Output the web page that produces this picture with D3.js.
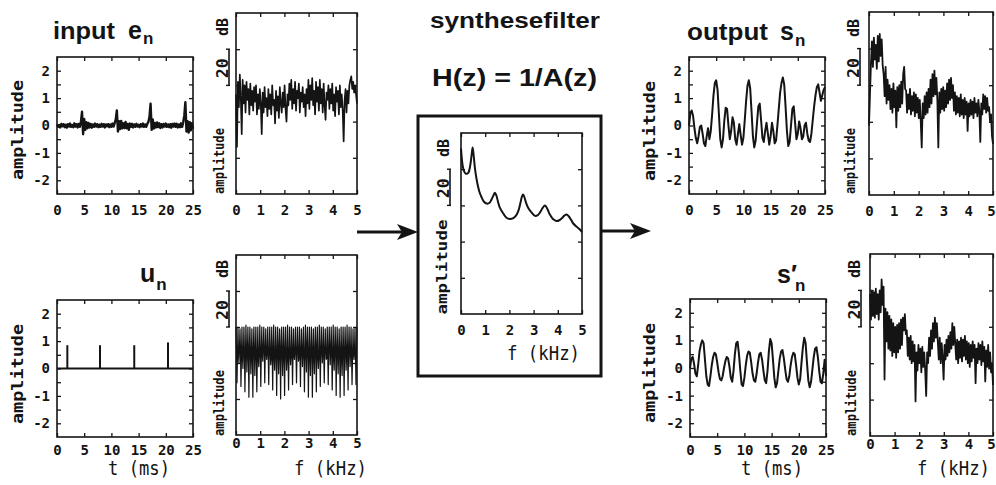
<!DOCTYPE html>
<html><head><meta charset="utf-8">
<script src="https://cdn.jsdelivr.net/npm/d3@7"></script>
<style>html,body{margin:0;padding:0;background:#fff;}svg{display:block;}</style>
</head><body>
<script>
// ---- axis ticks ----
const timeTicks = [0, 5, 10, 15, 20, 25];
const freqTicks = [0, 1, 2, 3, 4, 5];
const ampLabels = [-2, -1, 0, 1, 2];
const ampMinor = [-2, -1.5, -1, -0.5, 0, 0.5, 1, 1.5, 2];
const dbTicks = [20, 40, 60, 80];

// ---- input e_n (residual), 0.2 ms steps over 25 ms ----
const residual = [
  0.04,-0.05,0.02,-0.07,0.06,-0.03,0.05,-0.06,0.03,-0.08,
  0.05,-0.04,0.07,-0.05,0.02,-0.06,0.08,-0.04,0.05,-0.07,
  0.06,-0.05,0.14,0.5,-0.32,0.24,-0.16,0.12,-0.1,0.09,
  -0.07,0.06,-0.08,0.04,-0.05,0.07,-0.04,0.05,-0.06,0.03,
  -0.05,0.06,-0.04,0.05,-0.07,0.04,-0.03,0.05,-0.06,0.04,
  -0.05,0.07,-0.04,0.09,0.22,0.55,-0.22,0.16,-0.13,0.17,
  -0.1,0.08,-0.09,0.13,-0.1,0.06,-0.16,0.07,-0.05,0.06,
  -0.07,0.04,-0.05,0.06,-0.04,0.03,-0.06,0.05,-0.04,0.07,
  -0.05,0.04,-0.05,0.06,0.13,0.32,0.8,-0.16,0.22,-0.11,
  0.09,-0.07,0.11,-0.06,0.08,-0.09,0.05,-0.07,0.06,-0.04,
  0.07,-0.05,0.04,-0.06,0.05,-0.08,0.06,-0.04,0.07,-0.05,
  0.06,-0.07,0.04,-0.06,0.08,-0.05,0.12,0.36,0.85,-0.22,
  0.16,-0.26,0.12,-0.18,0.08,-0.12
];
// spectrum of e_n (dB), 128 bins over 0..5 kHz
const residualSpec = [
  55,26,62,48,66,54,33,63,50,60, 45,62,52,58,44,61,49,57,46,59,
  51,60,44,55,47,58,50,33,56,45, 59,48,53,43,58,47,55,44,60,49,
  52,39,57,46,54,42,59,50,45,56, 48,60,47,40,55,49,61,52,63,47,
  58,50,62,46,57,53,61,45,56,51, 59,48,55,43,58,50,63,47,60,52,
  64,49,57,44,62,51,59,46,63,50, 58,45,61,49,41,56,52,60,47,58,
  50,61,46,55,43,59,51,57,44,60, 48,55,46,29,52,58,45,57,50,60,
  63,65,58,62,56,60,55,50
];

// ---- pulse train u_n ----
const pulseTimes = [1.9, 7.9, 14.2, 20.4];
const pulseAmps = [0.85, 0.85, 0.85, 0.95];
// line spectrum of u_n (dB): peaks, and the three samples between neighbouring lines
const combPeak = [
  60,60,59,60,60,61,60,60,59,60, 60,60,61,60,60,59,60,60,60,61,
  60,60,59,60,60,60,61,60,60,59, 60,60,60,59,60,61,60,60,60,59,
  60,60,61,60,60,59,60,60,60,61, 60,60,59,60,60,60,61,60,60,59,
  60,60
];
const combMidA = [
  47,45,48,44,46,49,45,47,44,48, 46,43,47,45,48,46,44,47,45,43,
  46,48,45,47,44,46,43,45,47,44, 46,48,44,47,45,49,46,44,48,45,
  47,43,46,48,44,47,45,49,46,44, 48,45,47,43,46,48,44,47,45,46,
  44
];
const combLow = [
  29,40,27,37,24,35,21,34,21,33, 24,38,27,41,29,42,28,39,25,36,
  22,34,20,33,22,36,25,39,28,42, 29,41,27,38,24,35,21,33,21,34,
  24,37,27,40,29,42,28,39,25,36, 22,34,21,33,22,36,25,38,28,42,
  28
];
const combMidB = [
  45,48,44,47,43,46,48,44,47,45, 42,46,44,48,45,47,46,43,47,45,
  44,46,48,45,47,43,46,44,45,47, 45,43,47,46,44,48,45,47,43,46,
  48,44,46,45,47,43,48,46,44,47, 45,46,43,47,45,44,48,46,43,47,
  45
];

// ---- synthesis filter |H| (dB) ----
const filterFreq = [0,0.1,0.2,0.3,0.38,0.44,0.48,0.52,0.58,0.65,0.75,0.85,0.95,1.06,1.17,1.27,1.34,1.4,1.46,1.53,1.61,1.75,1.88,2.02,2.16,2.28,2.37,2.45,2.52,2.57,2.62,2.7,2.78,2.92,3.06,3.16,3.26,3.37,3.47,3.57,3.67,3.8,3.95,4.06,4.16,4.26,4.36,4.45,4.55,4.64,4.8,4.9,5];
const filterDb = [91.5,80,77.5,78,82,88,92,88,80,74,68,64.5,62,61,61.3,63.5,65.5,67,65.5,62,58.6,55.5,53.2,52.5,53,54.5,57,61,65,66,64.5,61,58.6,56,54.2,54.5,56,58.5,60,58,55,52.5,51.4,51.8,52.8,54.2,55,54,52,50,48,46.8,45.3];

// ---- output s_n, 0.25 ms steps ----
const speech = [
  0,0.45,0.55,0.35,-0.1,-0.45,-0.65,-0.4,-0.05,0,
  -0.3,-0.65,-0.75,-0.4,-0.1,-0.5,-0.2,0.4,1.1,1.55,
  1.65,1.3,0.4,-0.5,-0.8,-0.5,0.2,0.65,0.6,0,
  -0.5,-0.2,0.3,0.1,-0.5,-0.7,-0.3,0.05,-0.35,-0.7,
  -0.45,0.2,0.9,1.45,1.65,1.35,0.5,-0.4,-0.8,-0.55,
  0.1,0.7,0.8,0.2,-0.45,-0.6,-0.2,0.1,-0.3,-0.7,
  -0.4,0.1,-0.2,-0.65,-0.55,0,0.6,1.2,1.55,1.75,
  1.5,0.7,-0.2,-0.75,-0.6,0,0.6,0.7,0.1,-0.5,
  -0.3,0.15,-0.1,-0.5,-0.4,0,0.1,-0.3,-0.55,-0.6,
  -0.3,0.2,0.7,1.1,1.4,1.5,1.2,0.9,1.1,1.3,1.4
];
const speechSpec = [
  38,55,72,84,70,86,74,82,69,87, 73,88,76,85,71,66,54,70,50,63,
  52,60,47,58,45,61,48,57,37,59, 46,60,48,62,50,66,70,58,57,45,
  55,47,58,44,54,46,56,43,55,45, 53,42,52,40,26,50,42,54,44,56,
  45,58,48,63,50,66,54,68,55,64, 52,26,56,45,58,47,59,46,57,48,
  61,50,63,52,64,53,60,46,56,44, 54,45,53,43,55,44,52,42,53,44,
  51,35,50,43,52,44,51,42,53,45, 50,43,52,46,29,50,44,55,47,54,
  45,53,46,48,40,44,32,28
];

// ---- s'_n, 0.25 ms steps ----
const speech2 = [
  0,0.35,0.4,0.15,-0.2,-0.3,0.1,0.6,0.85,1,
  0.9,0.3,-0.3,-0.6,-0.65,-0.3,0.1,0.4,0.55,0.5,
  0.2,-0.15,-0.4,-0.45,-0.3,0,0.25,0.4,0.35,0.05,
  -0.35,-0.5,-0.1,0.5,0.9,0.95,0.5,-0.1,-0.6,-0.65,
  -0.35,0.1,0.45,0.6,0.55,0.2,-0.2,-0.45,-0.5,-0.2,
  0.2,0.5,0.55,0.3,-0.1,-0.45,-0.55,-0.1,0.6,1.05,
  0.9,0.3,-0.35,-0.7,-0.55,-0.1,0.35,0.6,0.65,0.35,
  -0.05,-0.4,-0.5,-0.3,0.1,0.4,0.55,0.5,0.1,-0.35,
  -0.6,-0.4,0.2,0.75,1.1,0.9,0.2,-0.45,-0.7,-0.5,
  -0.05,0.4,0.7,0.75,0.4,-0.1,-0.5,-0.55,-0.2,0.3,-0.3
];
const speech2Spec = [
  78,64,80,66,79,65,81,67,78,64, 80,68,86,72,82,31,70,52,68,48,
  66,47,64,44,62,46,60,43,61,46, 62,48,64,50,65,58,67,56,58,44,
  54,42,55,40,52,41,50,19,46,36, 50,40,48,35,49,38,46,36,22,46,
  40,54,44,58,48,62,52,65,54,62, 52,42,54,40,51,43,31,50,42,53,
  44,55,46,57,48,62,50,60,51,42, 53,40,52,43,54,41,53,44,55,42,
  52,40,51,38,50,41,52,43,50,29, 48,40,51,42,50,39,52,41,49,30,
  47,38,50,37,46,35,40,28
];

// ---------------------------------------------------------------
const INK = "#141414";
const MONO = "'DejaVu Sans Mono', monospace";
const SANS = "'Liberation Sans', Arial, sans-serif";
const svg = d3.select("body").append("svg").attr("width", 996).attr("height", 485);

const fmtSigned = d => (d < 0 ? "-" : "") + Math.abs(d);

function panel(box, xDomain, yDomain, o) {
  const x = d3.scaleLinear(xDomain, [box.x0, box.x1]);
  const y = d3.scaleLinear(yDomain, [box.y1, box.y0]);
  const g = svg.append("g");
  const ax = (gen, tx, ty) => g.append("g").attr("transform", `translate(${tx},${ty})`)
      .call(gen).call(s => s.select(".domain").remove());
  const bottom = ax(d3.axisBottom(x).tickValues(o.xTicks).tickSizeInner(-4).tickSizeOuter(0)
      .tickPadding(o.xPad).tickFormat(d3.format("d")), 0, box.y1);
  ax(d3.axisTop(x).tickValues(o.xTicks).tickSizeInner(-4).tickSizeOuter(0).tickFormat(""), 0, box.y0);
  if (o.yLabels) ax(d3.axisLeft(y).tickValues(o.yLabels).tickSizeInner(0).tickSizeOuter(0)
      .tickPadding(7).tickFormat(fmtSigned), box.x0, 0);
  ax(d3.axisLeft(y).tickValues(o.yTicks).tickSizeInner(-4).tickSizeOuter(0).tickFormat(""), box.x0, 0);
  ax(d3.axisRight(y).tickValues(o.yTicks).tickSizeInner(-4).tickSizeOuter(0).tickFormat(""), box.x1, 0);
  g.selectAll(".tick line").attr("stroke", INK).attr("stroke-width", 1.3);
  g.selectAll(".tick text").attr("font-family", MONO).attr("font-weight", "bold")
      .attr("font-size", 14).attr("fill", INK);
  if (o.lastShift) bottom.selectAll(".tick text").filter((d, i, n) => i === n.length - 1)
      .attr("dx", o.lastShift);
  g.append("rect").attr("x", box.x0).attr("y", box.y0)
      .attr("width", box.x1 - box.x0).attr("height", box.y1 - box.y0)
      .attr("fill", "none").attr("stroke", INK).attr("stroke-width", 1.6);
  return { x, y, g };
}

function vtext(x, y, str, size, len, weight) {
  const t = svg.append("text").attr("transform", `translate(${x},${y}) rotate(-90)`)
      .attr("text-anchor", "middle").attr("font-family", MONO)
      .attr("font-weight", weight || "bold").attr("font-size", size).attr("fill", INK).text(str);
  if (len) t.attr("textLength", len).attr("lengthAdjust", "spacingAndGlyphs");
  return t;
}

function htext(x, y, str, font, size, len, weight, anchor) {
  const t = svg.append("text").attr("x", x).attr("y", y)
      .attr("font-family", font).attr("font-weight", weight || "bold")
      .attr("font-size", size).attr("fill", INK).attr("text-anchor", anchor || "start").text(str);
  if (len) t.attr("textLength", len).attr("lengthAdjust", "spacingAndGlyphs");
  return t;
}

// symbol with subscript n (optionally primed), kept in one text element
function symbol(x, y, letter, subDx, subDy) {
  const t = svg.append("text").attr("x", x).attr("y", y)
      .attr("font-family", SANS).attr("font-weight", "bold").attr("fill", INK);
  t.append("tspan").attr("font-size", 25).text(letter);
  t.append("tspan").attr("font-size", 17).attr("dx", subDx).attr("dy", subDy).text("n");
  return t;
}

// time-domain panel
function timePanel(box, xPad, labelX, labelY) {
  const p = panel(box, [0, 25], [-2.5, 2.5], { xTicks: timeTicks, yTicks: ampMinor, yLabels: ampLabels, xPad });
  vtext(labelX, labelY, "amplitude", 15, 100);
  return p;
}

// spectrum panel with rotated "amplitude 20 — dB" scale label
function specPanel(box, xPad, o) {
  const p = panel(box, [0, 5], [0, 100], { xTicks: freqTicks, yTicks: dbTicks, xPad, lastShift: o.lastShift });
  const bx = box.x0 - o.barGap;
  vtext(bx - o.ampShift, o.ampY, "amplitude", o.ampSize, o.ampLen);
  const yTop = p.y(80), yBot = p.y(60);
  svg.append("line").attr("x1", bx).attr("x2", bx).attr("y1", yTop).attr("y2", yBot)
      .attr("stroke", INK).attr("stroke-width", 1.6);
  [yTop, yBot].forEach(v => svg.append("line").attr("x1", bx - 3).attr("x2", bx + 1)
      .attr("y1", v).attr("y2", v).attr("stroke", INK).attr("stroke-width", 1.4));
  vtext(bx - 1.5, (yTop + yBot) / 2 + 1, "20", 15, 20);
  vtext(bx - 1.5, o.dbY, "dB", 15, 18);
  return p;
}

const idxLine = (p, n, span, vals) => d3.line()
    .x((d, i) => p.x(i * span / (n - 1))).y(d => p.y(d))(vals);

function trace(p, vals, span, width) {
  p.g.append("path").attr("d", idxLine(p, vals.length, span, vals))
      .attr("fill", "none").attr("stroke", INK).attr("stroke-width", width)
      .attr("stroke-linejoin", "round");
}

const specLabel = { barGap: 7, ampShift: 5, ampSize: 13.5, ampLen: 66 };

// ---- panel 1: e_n ----
const p1 = timePanel({ x0: 57, x1: 193, y0: 57, y1: 194 }, 11, 23, 130);
trace(p1, residual, 25, 2.4);

// ---- panel 2: spectrum of e_n ----
const p2 = specPanel({ x0: 236, x1: 357, y0: 13, y1: 194 }, 11,
  Object.assign({}, specLabel, { ampY: 161, dbY: 27 }));
trace(p2, residualSpec, 5, 1.7);

// ---- panel 3: u_n ----
const p3 = timePanel({ x0: 57, x1: 193, y0: 300, y1: 437 }, 8, 23, 374);
p3.g.append("line").attr("x1", p3.x(0)).attr("x2", p3.x(25)).attr("y1", p3.y(0)).attr("y2", p3.y(0))
    .attr("stroke", INK).attr("stroke-width", 2);
p3.g.selectAll(".pulse").data(pulseTimes).join("line")
    .attr("x1", d => p3.x(d)).attr("x2", d => p3.x(d))
    .attr("y1", p3.y(0)).attr("y2", (d, i) => p3.y(pulseAmps[i]))
    .attr("stroke", INK).attr("stroke-width", 2);

// ---- panel 4: spectrum of u_n (line spectrum) ----
const p4 = specPanel({ x0: 236, x1: 357, y0: 255, y1: 435 }, 3,
  Object.assign({}, specLabel, { ampY: 403, dbY: 269 }));
const comb = [];
combPeak.forEach((v, k) => {
  comb.push(v);
  if (k < combLow.length) comb.push(combMidA[k], combLow[k], combMidB[k]);
});
trace(p4, comb, 5, 1.2);

// ---- centre: synthesis filter ----
svg.append("rect").attr("x", 418).attr("y", 116).attr("width", 183).attr("height", 260)
    .attr("fill", "none").attr("stroke", INK).attr("stroke-width", 3);
const p5 = specPanel({ x0: 461, x1: 582, y0: 133, y1: 314 }, 11,
  { barGap: 11, ampShift: 3, ampY: 267, ampSize: 14, ampLen: 95, dbY: 148 });
p5.g.append("path")
    .attr("d", d3.line().x((d, i) => p5.x(filterFreq[i])).y(d => p5.y(d)).curve(d3.curveCatmullRom)(filterDb))
    .attr("fill", "none").attr("stroke", INK).attr("stroke-width", 2);
htext(580, 360, "f (kHz)", MONO, 19, 73, "normal", "end");

// ---- panel 6: s_n ----
const p6 = timePanel({ x0: 689, x1: 825, y0: 57, y1: 194 }, 11, 655, 131);
trace(p6, speech, 25, 2);

// ---- panel 7: spectrum of s_n ----
const p7 = specPanel({ x0: 869, x1: 993, y0: 12, y1: 195 }, 11,
  Object.assign({}, specLabel, { barGap: 9, ampY: 161, dbY: 28, lastShift: -2 }));
trace(p7, speechSpec, 5, 1.8);

// ---- panel 8: s'_n ----
const p8 = timePanel({ x0: 690, x1: 826, y0: 299, y1: 437 }, 8, 655, 373);
trace(p8, speech2, 25, 2);

// ---- panel 9: spectrum of s'_n ----
const p9 = specPanel({ x0: 870, x1: 993, y0: 254, y1: 436 }, 3,
  Object.assign({}, specLabel, { barGap: 9, ampY: 403, dbY: 269, lastShift: -2 }));
trace(p9, speech2Spec, 5, 1.8);

// ---- axis titles ----
htext(170, 475, "t (ms)", MONO, 19, 62, "normal", "end");
htext(803, 475, "t (ms)", MONO, 19, 62, "normal", "end");
htext(367, 475, "f (kHz)", MONO, 19, 73, "normal", "end");
htext(990, 475, "f (kHz)", MONO, 19, 73, "normal", "end");

// ---- titles ----
htext(53, 39, "input", SANS, 24, 62);
symbol(128, 39, "e", 1, 5);
htext(687, 40, "output", SANS, 24, 81);
symbol(780, 40, "s", 1, 6);
symbol(140, 282, "u", 1, 8);
symbol(777, 283, "s\u2032", -2, 8);
htext(430, 28, "synthesefilter", SANS, 22, 170);
htext(432, 86, "H(z) = 1/A(z)", SANS, 24, 165);

// ---- arrows ----
function arrow(xa, xb, yy) {
  svg.append("line").attr("x1", xa).attr("x2", xb - 14).attr("y1", yy).attr("y2", yy)
      .attr("stroke", INK).attr("stroke-width", 3);
  svg.append("path").attr("d", `M${xb - 21},${yy - 8} L${xb},${yy} L${xb - 21},${yy + 8} L${xb - 16},${yy} Z`)
      .attr("fill", INK);
}
arrow(357, 418, 232);
arrow(602, 651, 231);
</script>
</body></html>
